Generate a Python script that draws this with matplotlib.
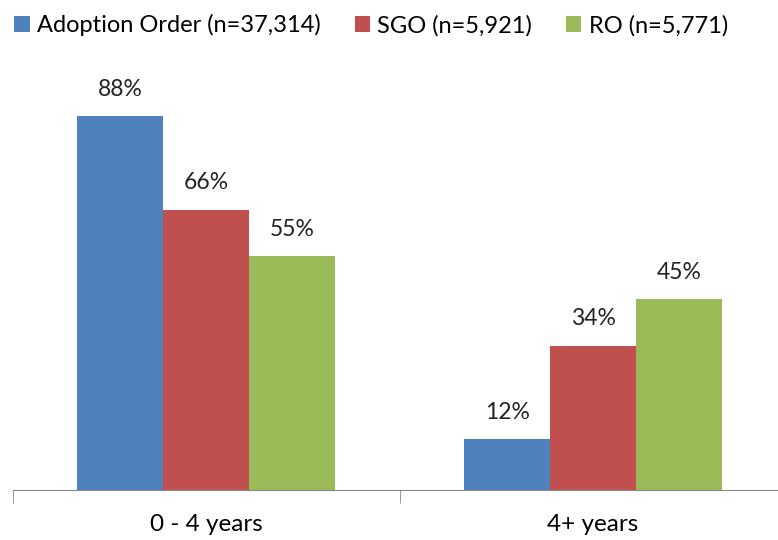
import numpy as np
import matplotlib.pyplot as plt

categories = ["0 - 4 years", "4+ years"]
series_names = ["Adoption Order (n=37,314)", "SGO (n=5,921)", "RO (n=5,771)"]
adoption = [88, 12]
sgo = [66, 34]
ro = [55, 45]

colors = ["#4F81BD", "#C0504D", "#9BBB59"]
plt.rcParams['font.family'] = ['Lato', 'DejaVu Sans']

fig = plt.figure(figsize=(7.78, 5.4), dpi=100)
ax = fig.add_axes([12.5 / 778, 50 / 540, 774 / 778, 425 / 540])

x = np.arange(len(categories))
width = 0.222
for i, (vals, name) in enumerate(zip([adoption, sgo, ro], series_names)):
    pos = x + (i - 1) * width
    bars = ax.bar(pos, vals, width, color=colors[i], label=name)
    for b, v in zip(bars, vals):
        ax.text(b.get_x() + b.get_width() / 2, v + 3.8, f"{v}%",
                ha="center", va="bottom", fontsize=16.5, color="#222222")

ax.set_xlim(-0.5, 1.5)
ax.set_ylim(0, 100)
ax.set_yticks([])
ax.set_xticks(x)
ax.set_xticklabels(categories, fontsize=17.5)
ax.set_xticks([-0.5, 0.5, 1.5], minor=True)
ax.tick_params(axis="x", which="major", length=0, pad=17)
ax.tick_params(axis="x", which="minor", length=9, color="#888888")
for s in ["top", "right", "left"]:
    ax.spines[s].set_visible(False)
ax.spines["bottom"].set_color("#888888")

leg = fig.legend(loc="upper left", bbox_to_anchor=(0.0, 1.0), ncol=3, frameon=False,
                 fontsize=17, handlelength=0.65, handleheight=0.65, handletextpad=0.3,
                 columnspacing=1.45, borderaxespad=0.2)

fig.savefig("out.png", dpi=100)
